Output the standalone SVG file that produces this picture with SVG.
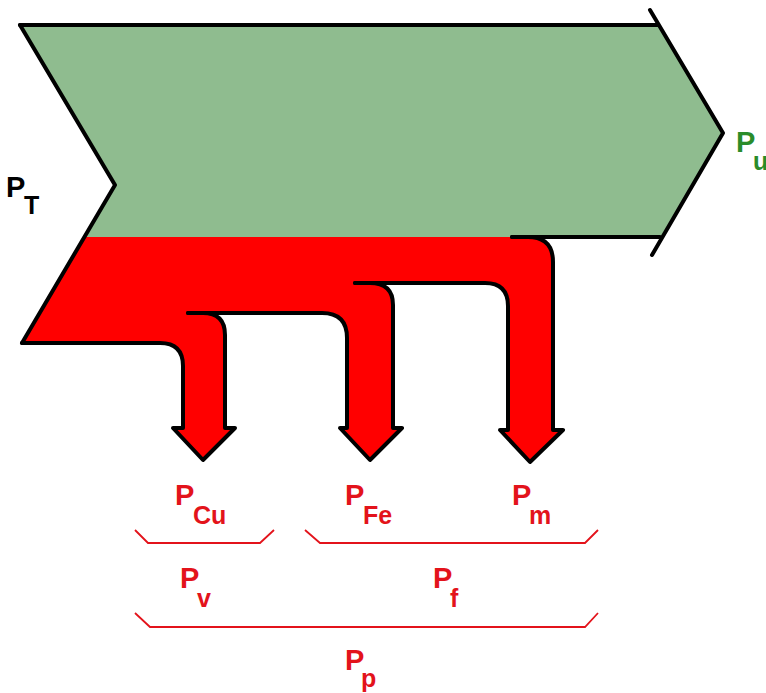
<svg xmlns="http://www.w3.org/2000/svg" width="766" height="693" viewBox="0 0 766 693">
<style>
.edge{fill:none;stroke:#000;stroke-width:4;stroke-linejoin:round;stroke-linecap:round}
.br{fill:none;stroke:#e3131b;stroke-width:1.8}
text{font-family:"Liberation Sans",Arial,sans-serif;font-weight:bold}
.m{font-size:29px}
.s{font-size:25px}
.red{fill:#e3131b}
.grn{fill:#2a8c2a}
.blk{fill:#000}
</style>
<rect width="766" height="693" fill="#fff"/>
<g id="useful-flow">
<path d="M20,25 H658 L723,133 L660,238 H84 L115,185 Z" fill="#8fbc8f"/>
</g>
<g id="loss-flow">
<path d="M84,237 H528 Q553,237 553,262 V430 H563 L530,462 L500,430 H508 V306 Q508,283 485,283 H370 Q393,283 393,305 V428 H402 L370,460 L340,428 H347 V338 Q347,313 322,313 H203 Q225,313 225,335 V428 H235 L203,460 L173,428 H183 V366 Q183,343 160,343 H22 Z" fill="#ff0000"/>
</g>
<g id="connectors">
<path class="edge" d="M20,25 H658"/>
<path class="edge" d="M650,10 L723,133 L652,255"/>
<path class="edge" d="M512,237 H660"/>
<path class="edge" d="M20,25 L115,185 L22,343"/>
<path class="edge" d="M22,343 H160 Q183,343 183,366 V428 H173 L203,460 L235,428 H225 V335 Q225,313 203,313 H188"/>
<path class="edge" d="M188,313 H322 Q347,313 347,338 V428 H340 L370,460 L402,428 H393 V305 Q393,283 370,283 H355"/>
<path class="edge" d="M355,283 H485 Q508,283 508,306 V430 H500 L530,462 L563,430 H553 V262 Q553,237 528,237 H512"/>
</g>
<g id="brackets">
<path class="br" d="M135,530 L148,543 H260 L274,530"/>
<path class="br" d="M305,530 L320,543 H585 L598,530"/>
<path class="br" d="M135,613 L150,627 H585 L598,613"/>
</g>
<g id="label-PT" class="blk"><text class="m" x="6" y="197">P</text><text class="s" x="24" y="214">T</text></g>
<g id="label-Pu" class="grn"><text class="m" x="736" y="152">P</text><text class="s" x="753" y="170">u</text></g>
<g id="label-PCu" class="red"><text class="m" x="175" y="505">P</text><text class="s" x="193" y="524">Cu</text></g>
<g id="label-PFe" class="red"><text class="m" x="345" y="505">P</text><text class="s" x="363" y="524">Fe</text></g>
<g id="label-Pm" class="red"><text class="m" x="512" y="505">P</text><text class="s" x="529" y="524">m</text></g>
<g id="label-Pv" class="red"><text class="m" x="180" y="588">P</text><text class="s" x="197" y="607">v</text></g>
<g id="label-Pf" class="red"><text class="m" x="433" y="588">P</text><text class="s" x="450" y="607">f</text></g>
<g id="label-Pp" class="red"><text class="m" x="345" y="670">P</text><text class="s" x="361" y="687">p</text></g>
</svg>
